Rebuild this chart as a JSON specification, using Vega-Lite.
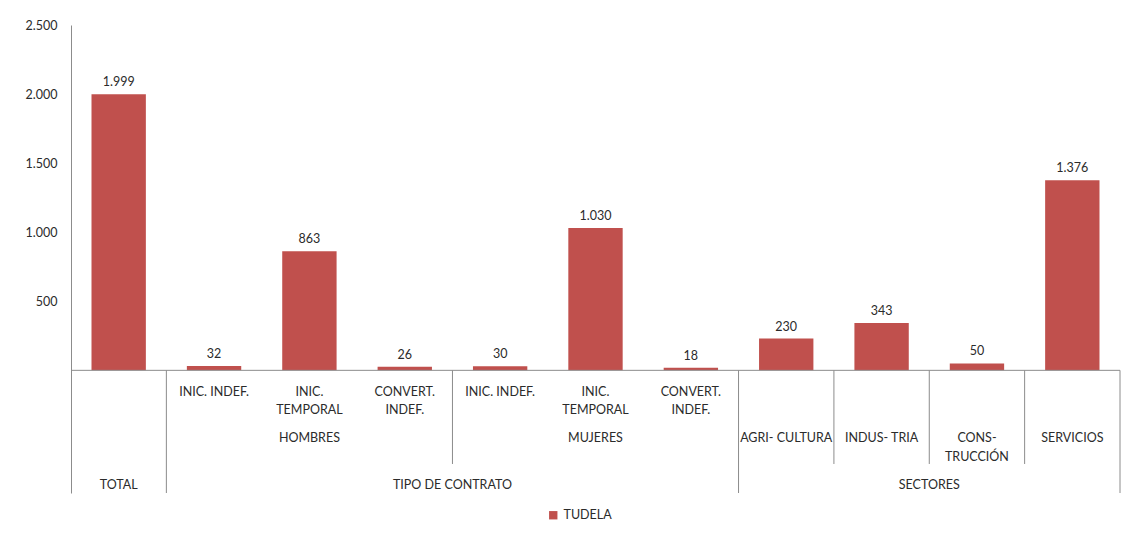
{
  "$schema": "https://vega.github.io/schema/vega-lite/v6.json",
  "width": 1049,
  "height": 468,
  "autosize": "none",
  "padding": {"left": 71, "top": 25, "right": 23, "bottom": 46},
  "background": "white",
  "config": {
    "font": "Lato",
    "view": {"stroke": null},
    "locale": {"number": {"decimal": ",", "thousands": ".", "grouping": [3], "currency": ["", " €"]}},
    "text": {"font": "Lato", "fontSize": 12.5, "color": "#2b2b2b"}
  },
  "datasets": {
    "bars": [
      {"cat": 1, "value": 1999},
      {"cat": 2, "value": 32},
      {"cat": 3, "value": 863},
      {"cat": 4, "value": 26},
      {"cat": 5, "value": 30},
      {"cat": 6, "value": 1030},
      {"cat": 7, "value": 18},
      {"cat": 8, "value": 230},
      {"cat": 9, "value": 343},
      {"cat": 10, "value": 50},
      {"cat": 11, "value": 1376}
    ],
    "sub": [
      {"cat": 2, "label": ["INIC. INDEF."]},
      {"cat": 3, "label": ["INIC.", "TEMPORAL"]},
      {"cat": 4, "label": ["CONVERT.", "INDEF."]},
      {"cat": 5, "label": ["INIC. INDEF."]},
      {"cat": 6, "label": ["INIC.", "TEMPORAL"]},
      {"cat": 7, "label": ["CONVERT.", "INDEF."]}
    ],
    "groups": [
      {"cat": 3, "label": ["HOMBRES"]},
      {"cat": 6, "label": ["MUJERES"]},
      {"cat": 8, "label": ["AGRI- CULTURA"]},
      {"cat": 9, "label": ["INDUS- TRIA"]},
      {"cat": 10, "label": ["CONS-", "TRUCCIÓN"]},
      {"cat": 11, "label": ["SERVICIOS"]}
    ],
    "top_center": [
      {"cat": 1, "label": "TOTAL"}
    ],
    "top_edge": [
      {"cat": 4, "label": "TIPO DE CONTRATO"},
      {"cat": 9, "label": "SECTORES"}
    ],
    "long_left": [{"cat": 2}, {"cat": 8}],
    "long_right": [{"cat": 11}],
    "mid_left": [{"cat": 5}, {"cat": 9}, {"cat": 10}, {"cat": 11}]
  },
  "encoding": {
    "x": {
      "field": "cat",
      "type": "ordinal",
      "scale": {"type": "band", "domain": [1, 2, 3, 4, 5, 6, 7, 8, 9, 10, 11], "paddingInner": 0, "paddingOuter": 0},
      "axis": null
    }
  },
  "layer": [
    {
      "data": {"name": "bars"},
      "mark": {"type": "bar", "width": {"band": 0.57}},
      "encoding": {
        "y": {
          "field": "value",
          "type": "quantitative",
          "scale": {"domain": [-888, 2500], "nice": false, "zero": false},
          "axis": {
            "values": [500, 1000, 1500, 2000, 2500],
            "format": ",d",
            "title": null,
            "grid": false,
            "ticks": false,
            "labelPadding": 14,
            "labelFontSize": 12.5,
            "labelColor": "#2b2b2b",
            "labelFont": "Lato",
            "domainColor": "#8c8c8c"
          }
        },
        "color": {
          "datum": "TUDELA",
          "scale": {"range": ["#C0504D"]},
          "legend": {
            "title": null,
            "orient": "none",
            "legendX": 476,
            "legendY": 484,
            "symbolType": "square",
            "symbolSize": 70,
            "symbolStrokeWidth": 0,
            "labelFontSize": 12.5,
            "labelFont": "Lato",
            "labelColor": "#2b2b2b",
            "padding": 0
          }
        }
      }
    },
    {
      "data": {"name": "bars"},
      "mark": {"type": "text", "baseline": "bottom", "dy": -5},
      "encoding": {
        "y": {"field": "value", "type": "quantitative"},
        "text": {"field": "value", "type": "quantitative", "format": ",d"}
      }
    },
    {
      "data": {"values": [{}]},
      "mark": {"type": "rule", "color": "#8c8c8c"},
      "encoding": {"x": null, "y": {"datum": 0}}
    },
    {
      "data": {"name": "long_left"},
      "mark": {"type": "rule", "color": "#8c8c8c"},
      "encoding": {
        "x": {"field": "cat", "type": "ordinal", "bandPosition": 0},
        "y": {"datum": 0},
        "y2": {"datum": -888}
      }
    },
    {
      "data": {"name": "long_right"},
      "mark": {"type": "rule", "color": "#8c8c8c"},
      "encoding": {
        "x": {"field": "cat", "type": "ordinal", "bandPosition": 1},
        "y": {"datum": 0},
        "y2": {"datum": -888}
      }
    },
    {
      "data": {"name": "mid_left"},
      "mark": {"type": "rule", "color": "#8c8c8c"},
      "encoding": {
        "x": {"field": "cat", "type": "ordinal", "bandPosition": 0},
        "y": {"datum": 0},
        "y2": {"datum": -678}
      }
    },
    {
      "data": {"name": "sub"},
      "mark": {"type": "text", "baseline": "top", "lineHeight": 18.5},
      "encoding": {
        "y": {"datum": -112},
        "text": {"field": "label"}
      }
    },
    {
      "data": {"name": "groups"},
      "mark": {"type": "text", "baseline": "top", "lineHeight": 18.5},
      "encoding": {
        "y": {"datum": -447},
        "text": {"field": "label"}
      }
    },
    {
      "data": {"name": "top_center"},
      "mark": {"type": "text", "baseline": "top"},
      "encoding": {
        "y": {"datum": -787},
        "text": {"field": "label"}
      }
    },
    {
      "data": {"name": "top_edge"},
      "mark": {"type": "text", "baseline": "top"},
      "encoding": {
        "x": {"field": "cat", "type": "ordinal", "bandPosition": 1},
        "y": {"datum": -787},
        "text": {"field": "label"}
      }
    }
  ]
}
